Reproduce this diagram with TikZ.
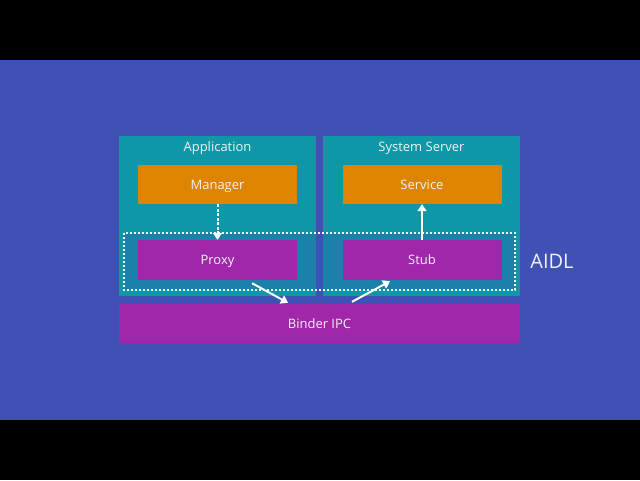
\documentclass[tikz,border=0pt]{standalone}
\usepackage{fontspec}
\setmainfont{Open Sans}
\usetikzlibrary{arrows.meta}
\definecolor{bgblue}{HTML}{3F51B5}
\definecolor{teal}{HTML}{0E97A6}
\definecolor{orng}{HTML}{DD8500}
\definecolor{purp}{HTML}{A027AA}
\definecolor{txtw}{HTML}{F2F2F2}
\begin{document}
\begin{tikzpicture}[x=1pt,y=-1pt,
  container/.style={fill=teal,draw=none,inner sep=0pt,minimum width=197pt,minimum height=160pt},
  lbl/.style={text=txtw,font=\fontsize{13}{15}\selectfont,anchor=base,inner sep=0pt},
  box/.style={draw=none,inner sep=0pt,text=txtw,font=\fontsize{13}{15}\selectfont,
    text height=9pt,text depth=0pt,minimum height=39pt,minimum width=159pt},
  boxo/.style={box,fill=orng},
  boxp/.style={box,fill=purp},
  arr/.style={draw=white,line width=2pt,-{Triangle[length=7pt,width=9pt]}},
]
\useasboundingbox (0,0) rectangle (640,480);
\fill[black] (0,0) rectangle (640,480);
\fill[bgblue] (0,60) rectangle (640,420);
% containers
\node[container] (appbox) at (217.5,216) {};
\node[container] (sysbox) at (421.5,216) {};
\node[lbl] (app) at (217.5,151) {Application};
\node[lbl] (sys) at (421.5,151) {System Server};
% AIDL tinted region
\fill[bgblue,opacity=0.3] (124,233) rectangle (515,290);
% boxes
\node[boxo] (manager) at (217.5,184.5) {Manager};
\node[boxo] (service) at (422,184.5) {Service};
\node[boxp,minimum height=40pt] (proxy) at (217.5,260) {Proxy};
\node[boxp,minimum height=40pt] (stub) at (422,260) {Stub};
\node[boxp,minimum width=401pt] (binder) at (319.5,323.5) {Binder IPC};
% AIDL dotted outline
\draw[white,line width=2pt,dash pattern=on 2pt off 2pt] (124,233) rectangle (515,290);
\node[lbl,font=\fontsize{20}{24}\selectfont] (aidl) at (552,268) {AIDL};
% connectors
\draw[arr,dash pattern=on 3pt off 1.5pt] (manager.south) -- (proxy.north);
\draw[arr] (stub.north) -- (service.south);
\draw[arr] ([xshift=34.5pt,yshift=-3pt]proxy.south) -- ([xshift=-31.5pt,yshift=1pt]binder.north);
\draw[arr] ([xshift=32.5pt,yshift=2pt]binder.north) -- ([xshift=-32pt,yshift=-1pt]stub.south);
\end{tikzpicture}
\end{document}
